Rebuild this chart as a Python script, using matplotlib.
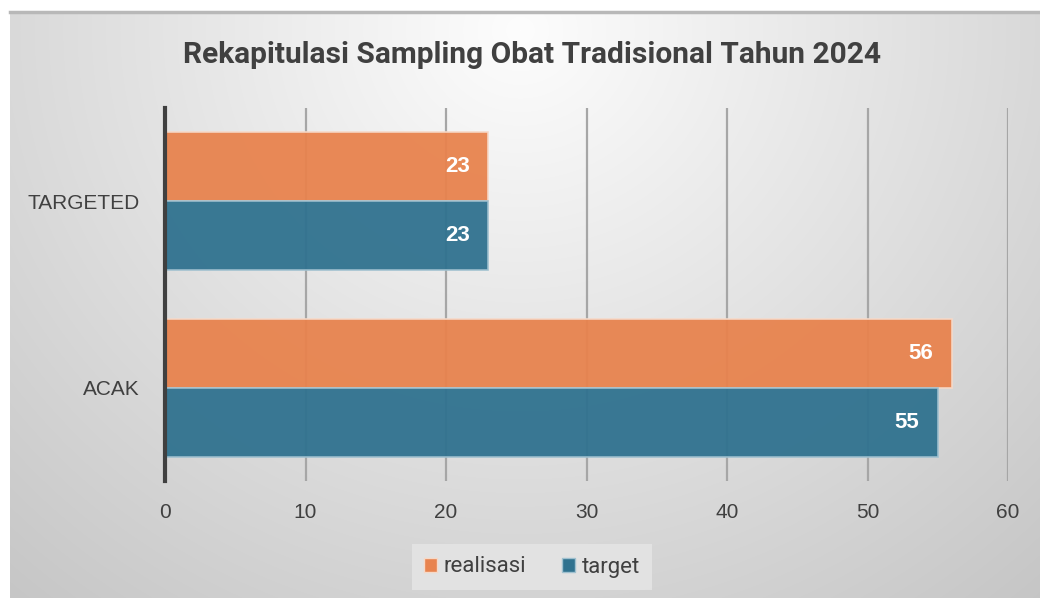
import numpy as np
import matplotlib
matplotlib.use("Agg")
import matplotlib.pyplot as plt
from matplotlib.patches import Patch

categories = ["ACAK", "TARGETED"]
realisasi = [56, 23]
target = [55, 23]
series_names = ["realisasi", "target"]
xticks = [0, 10, 20, 30, 40, 50, 60]

C_OR = "#E8834E"
C_BL = "#30728F"
TXT = "#404040"

W, H = 1040, 598
fig = plt.figure(figsize=(W / 100, H / 100), dpi=100)
fig.patch.set_facecolor("white")

# background panel with radial gradient
bx0, by_top = 10, 12
bg = fig.add_axes([bx0 / W, 0, (W - bx0) / W, (H - by_top) / H], zorder=0)
xx, yy = np.meshgrid(np.arange(bx0, W), np.arange(by_top, H))
r = np.hypot(xx - 520, (yy - 30) * 1.05)
g = np.clip(253 - r * 0.07, 195, 253) / 255.0
bg.imshow(np.dstack([g, g, g]), aspect="auto", extent=[0, 1, 0, 1], origin="upper")
bg.plot([0, 1], [1, 1], color="#b8b8b8", lw=2.5, transform=bg.transAxes, clip_on=False)
bg.set_axis_off()

ax = fig.add_axes([165 / W, 1 - 481 / H, (1008 - 165) / W, (481 - 108) / H], zorder=1)
ax.patch.set_alpha(0)
y = np.arange(len(categories))
h = 0.37
b1 = ax.barh(y + h / 2, realisasi, height=h, color=C_OR, alpha=0.95,
             edgecolor="#f6d9c8", linewidth=1.2, zorder=3, label=series_names[0])
b2 = ax.barh(y - h / 2, target, height=h, color=C_BL, alpha=0.95,
             edgecolor="#9fc0cf", linewidth=1.2, zorder=3, label=series_names[1])
for bars, vals in ((b1, realisasi), (b2, target)):
    for rect, v in zip(bars, vals):
        ax.text(v - 1.3, rect.get_y() + rect.get_height() / 2, f"{v}",
                ha="right", va="center", color="white", fontsize=16,
                fontweight="bold", family="Liberation Sans", zorder=5)

ax.set_xlim(0, 60)
ax.set_ylim(-0.5, 1.5)
ax.set_xticks(xticks)
ax.set_yticks(y)
ax.set_yticklabels(categories)
ax.grid(axis="x", color="#a6a6a6", lw=1.6, zorder=1)
ax.set_axisbelow(True)
for s in ["top", "right", "bottom"]:
    ax.spines[s].set_visible(False)
ax.spines["left"].set_color(TXT)
ax.spines["left"].set_linewidth(3)
ax.spines["left"].set_zorder(4)
ax.tick_params(axis="both", length=0, labelcolor=TXT, labelsize=15)
ax.tick_params(axis="x", pad=16)
ax.tick_params(axis="y", pad=18)
for lab in ax.get_xticklabels() + ax.get_yticklabels():
    lab.set_family("Liberation Sans")

fig.text(532 / W, 1 - 55 / H, "Rekapitulasi Sampling Obat Tradisional Tahun 2024",
         ha="center", va="center", fontsize=21.5, fontweight="bold", color=TXT,
         family="Roboto")

handles = [Patch(facecolor=C_OR, edgecolor="#f6d9c8"), Patch(facecolor=C_BL, edgecolor="#9fc0cf")]
leg = fig.legend(handles, series_names, loc="center", bbox_to_anchor=(532 / W, 1 - 567 / H),
                 ncol=2, frameon=True, fancybox=False, fontsize=16,
                 handlelength=0.6, handleheight=0.6, handletextpad=0.3, columnspacing=1.6,
                 borderpad=0.55)
leg.get_frame().set_facecolor("#e6e6e6")
leg.get_frame().set_edgecolor("none")
for t in leg.get_texts():
    t.set_color(TXT)
    t.set_family("Roboto")

fig.savefig("out.png", dpi=100)
